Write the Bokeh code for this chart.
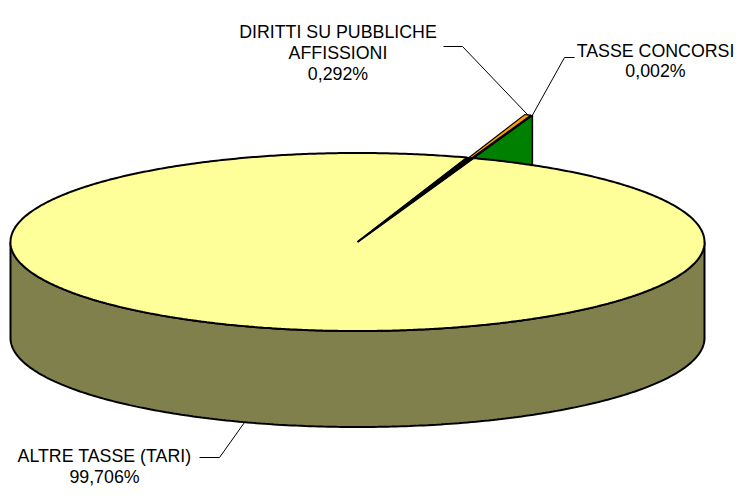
import math
import textwrap
import numpy as np
from bokeh.plotting import figure
from bokeh.models import Range1d, ColumnDataSource
from bokeh.core.properties import value
from bokeh.embed import file_html
from bokeh.resources import INLINE

# ---------------- data ----------------
categories = ["ALTRE TASSE (TARI)", "DIRITTI SU PUBBLICHE AFFISSIONI", "TASSE CONCORSI"]
values = [99.706, 0.292, 0.002]

# ---------------- styles / layout ----------------
top_colors = ["#FFFF99", "#FF9900", "#00FF00"]
side_colors = ["#80804D", "#804D00", "#008000"]
explode = [0.0, 0.51, 0.51]
START_CW = 19.5          # first slice angle, degrees clockwise from 12 o'clock
CX, CY = 357.0, 241.5    # centre of top ellipse (px)
RX, RY = 347.0, 89.0
DEPTH = 96.0
FONT = "Liberation Sans"
FSIZE = "17.8px"
LINE_H = 20.8
# label first-line baseline anchor and leader start/elbow (px)
label_anchor = [(104, 455.5), (337.5, 31.5), (655, 50)]
leader_start = [(199, 457), (443, 46), (574, 57)]
leader_elbow = [(219, 457), (462, 46), (564, 57)]

W, H = 736, 487
p = figure(width=W, height=H, output_backend="svg", toolbar_location=None,
           x_range=Range1d(0, W), y_range=Range1d(H, 0),
           x_axis_type=None, y_axis_type=None, min_border=0,
           outline_line_color=None)
p.grid.visible = False
p.background_fill_color = "white"
p.border_fill_color = "white"


def rim(phi, off=(0.0, 0.0), dz=0.0, scale=1.0):
    r = math.radians(phi)
    return (CX + off[0] + scale * RX * math.cos(r),
            CY + off[1] - scale * RY * math.sin(r) + dz)


def arc(phi0, phi1, off=(0.0, 0.0), dz=0.0, n=None):
    if n is None:
        n = max(2, int(abs(phi1 - phi0) * 2) + 2)
    ph = np.linspace(phi0, phi1, n)
    pts = [rim(a, off, dz) for a in ph]
    return [q[0] for q in pts], [q[1] for q in pts]


total = sum(values)
cum = np.concatenate([[0.0], np.cumsum(values)])
phi_s = [90 - (START_CW + 360 * cum[i] / total) for i in range(len(values))]
phi_e = [90 - (START_CW + 360 * cum[i + 1] / total) for i in range(len(values))]
phi_m = [(a + b) / 2 for a, b in zip(phi_s, phi_e)]
offsets = []
for i in range(len(values)):
    r = math.radians(phi_m[i])
    offsets.append((explode[i] * RX * math.cos(r), -explode[i] * RY * math.sin(r)))

main = [i for i in range(len(values)) if explode[i] == 0]
expl = [i for i in range(len(values)) if explode[i] > 0]

# 1. radial faces of exploded slices (behind the main pie)
for i in expl:
    off = offsets[i]
    c = (CX + off[0], CY + off[1])
    e = rim(phi_e[i], off)
    xs = [c[0], e[0], e[0], c[0]]
    ys = [c[1], e[1], e[1] + DEPTH, c[1] + DEPTH]
    p.patch(xs, ys, fill_color=side_colors[i], line_color="black", line_width=1.5)

# 2. tops of exploded slices
for i in expl:
    off = offsets[i]
    c = (CX + off[0], CY + off[1])
    ax, ay = arc(phi_s[i], phi_e[i], off, n=6)
    p.patch([c[0]] + ax, [c[1]] + ay, fill_color=top_colors[i],
            line_color="black", line_width=1.2)

# 3. side (front) of main pie
for i in main:
    tx, ty = arc(180, 360, n=240)
    bx, by = arc(360, 180, dz=DEPTH, n=240)
    p.patch(tx + bx, ty + by, fill_color=side_colors[i], line_color="black",
            line_width=2)

# 4. top of main pie
for i in main:
    ax, ay = arc(phi_s[i], phi_e[i], n=720)
    p.patch([CX] + ax + [CX], [CY] + ay + [CY], fill_color=top_colors[i],
            line_color="black", line_width=2)

# 5. gap left by the exploded slices
gap_lo = min(phi_e[i] for i in expl)
gap_hi = max(phi_s[i] for i in expl)
gx, gy = arc(gap_hi, gap_lo, n=6)
p.patch([CX] + gx, [CY] + gy, fill_color="black", line_color="black", line_width=1.2)

# 6. leaders
for i in range(len(values)):
    mr = math.radians(phi_m[i])
    if math.sin(mr) < 0:
        end = rim(phi_m[i], offsets[i], dz=DEPTH)
    else:
        end = rim(phi_m[i], offsets[i])
    xs = [leader_start[i][0], leader_elbow[i][0], end[0]]
    ys = [leader_start[i][1], leader_elbow[i][1], end[1]]
    p.line(xs, ys, line_color="black", line_width=1)

# 7. labels
tx, ty, tt = [], [], []
for i in range(len(values)):
    lines = textwrap.wrap(categories[i], 20)
    lines.append(f"{values[i]:.3f}".replace(".", ",") + "%")
    for k, ln in enumerate(lines):
        tx.append(label_anchor[i][0])
        ty.append(label_anchor[i][1] + k * LINE_H)
        tt.append(ln)
src = ColumnDataSource(dict(x=tx, y=ty, t=tt))
p.text(x="x", y="y", text="t", source=src, text_font=value(FONT),
       text_font_size=value(FSIZE), text_align="center",
       text_baseline="alphabetic", text_color="black")

open("out.html", "w").write(file_html(p, INLINE))
